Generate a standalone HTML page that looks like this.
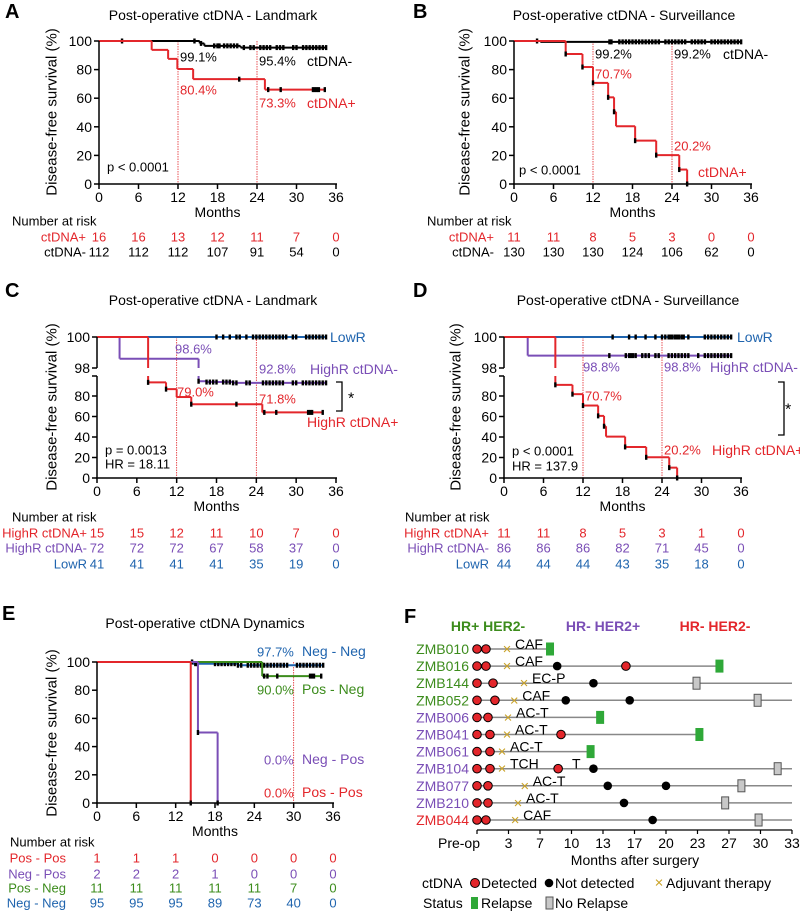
<!DOCTYPE html>
<html><head><meta charset="utf-8">
<style>
html,body{margin:0;padding:0;background:#fff;}
svg{display:block;font-family:"Liberation Sans",Arial,sans-serif;}
</style></head>
<body>
<svg id="fig" width="800" height="911" viewBox="0 0 800 911" xmlns="http://www.w3.org/2000/svg"></svg>
<script>
// ---------- DATA ----------
const xTicks = [0, 6, 12, 18, 24, 30, 36];
const yTicks = [0, 20, 40, 60, 80, 100];
const riskTimes = [0, 6, 12, 18, 24, 30, 36];

// Panel A
const aPosTimes = [8.0, 10.5, 11.9, 14.3, 25.2];
const aPosSurv = [93.8, 87.5, 80.4, 73.3, 66.0];
const aPosCens = [21.3, 25.7, 27.6, 32.5, 32.8, 33.1, 33.4, 34.3];
const aNegTimes = [15.3, 16.0, 21.5];
const aNegSurv = [98.3, 96.6, 95.4];
const aNegCens = [3.5, 14.5, 15.5, 17.5, 18, 18.3, 19, 19.5, 20, 20.5, 21, 22, 23, 23.5, 24.5, 25, 25.5, 26, 27, 27.5, 28, 29.5, 30, 31, 31.5, 32, 32.5, 33, 33.5, 34, 34.5];
const aRiskPos = [16, 16, 13, 12, 11, 7, 0];
const aRiskNeg = [112, 112, 112, 107, 91, 54, 0];

// Panel B
const bPosTimes = [7.85, 10.4, 12.0, 14.3, 15.2, 15.5, 18.4, 21.6, 25.1, 26.3];
const bPosSurv = [90.9, 81.8, 70.7, 60.6, 50.5, 40.4, 30.3, 20.2, 10.1, 0];
const bPosCens = [7.85, 10.4, 12.0, 14.3, 15.2, 18.4, 21.6, 25.1, 26.3];
const bNegTimes = [4.0];
const bNegSurv = [99.4];
const bNegCens = [3.5, 14.5, 14.8, 16, 16.5, 17, 17.5, 18, 18.5, 19, 19.5, 20, 20.5, 21, 21.5, 22, 23, 23.5, 24, 24.5, 25, 25.5, 26, 27, 27.5, 28, 28.5, 29, 30, 30.5, 31, 31.5, 32, 32.5, 33, 33.5, 34, 34.5];
const bRiskPos = [11, 11, 8, 5, 3, 0, 0];
const bRiskNeg = [130, 130, 130, 124, 106, 62, 0];

// Panel C
const cLowCens = [18, 19, 20, 21, 21.5, 22.5, 23.5, 24, 24.5, 25, 25.5, 26, 26.5, 27, 27.5, 28, 28.5, 29.5, 30, 31.5, 32, 32.5, 33, 33.5, 34, 34.5];
const cHnTimes = [3.4, 15.3, 16.5, 20.5];
const cHnSurv = [98.6, 94.4, 93.6, 92.8];
const cHnCens = [15.3, 16.5, 17, 17.5, 18, 19, 19.5, 20, 20.5, 21, 22.5, 23, 25, 25.5, 26, 26.5, 27, 27.5, 28, 29.5, 30, 31, 31.5, 32, 32.5, 33, 33.5, 34, 34.5];
const cHpTimes = [7.7, 10.4, 12.0, 14.2, 24.9];
const cHpSurv = [93.3, 86.7, 79.0, 72.0, 64.0];
const cHpCens = [7.7, 10.4, 14.2, 21.0, 25.2, 27.0, 31.8, 32.1, 32.4, 34.0];
const cRiskHp = [15, 15, 12, 11, 10, 7, 0];
const cRiskHn = [72, 72, 72, 67, 58, 37, 0];
const cRiskLow = [41, 41, 41, 41, 35, 19, 0];

// Panel D
const dLowCens = [16.5, 19, 20, 21.5, 23, 24, 24.5, 25, 25.3, 25.6, 26, 26.3, 26.6, 27, 27.3, 28, 30.5, 31, 31.5, 32, 32.5, 33, 33.5, 34, 34.5];
const dHnTimes = [3.6];
const dHnSurv = [98.8];
const dHnCens = [16, 18.5, 19, 19.3, 19.6, 20, 21, 21.5, 22, 23, 23.5, 25, 25.5, 26, 26.5, 27, 27.5, 28, 29.5, 30.5, 31, 31.5, 32, 32.5, 33, 33.5, 34, 34.5];
const dHpTimes = [7.8, 10.4, 12.0, 14.3, 15.2, 15.5, 18.4, 21.6, 25.1, 26.3];
const dHpSurv = [90.9, 81.8, 70.7, 60.6, 50.5, 40.4, 30.3, 20.2, 10.1, 0];
const dHpCens = [7.8, 10.4, 12.0, 14.3, 15.2, 18.4, 21.6, 25.1, 26.3];
const dRiskHp = [11, 11, 8, 5, 3, 1, 0];
const dRiskHn = [86, 86, 86, 82, 71, 45, 0];
const dRiskLow = [44, 44, 44, 43, 35, 18, 0];

// Panel E
const eNnTimes = [14.6, 21.5];
const eNnSurv = [98.8, 97.7];
const eNnCens = [14.5, 15, 15.3, 18, 18.5, 19, 19.5, 20, 20.5, 21, 21.5, 22, 23, 23.5, 24, 24.5, 25, 25.5, 26, 26.5, 27, 27.5, 28, 28.5, 29, 30.5, 31, 31.5, 32, 32.5, 33, 33.5, 34, 34.5];
const ePnTimes = [25.2];
const ePnSurv = [90.0];
const ePnCens = [25.5, 26, 27.5, 32.5, 32.8, 33.1, 34.2];
const eNpTimes = [15.4, 18.4];
const eNpSurv = [50, 0];
const ePpTimes = [14.3];
const ePpSurv = [0];
const eRiskPp = [1, 1, 1, 0, 0, 0, 0];
const eRiskNp = [2, 2, 2, 1, 0, 0, 0];
const eRiskPn = [11, 11, 11, 11, 11, 7, 0];
const eRiskNn = [95, 95, 95, 89, 73, 40, 0];

// Panel F
const fPatients = ["ZMB010","ZMB016","ZMB144","ZMB052","ZMB006","ZMB041","ZMB061","ZMB104","ZMB077","ZMB210","ZMB044"];
const fGroup = ["g","g","g","g","p","p","p","p","p","p","r"];
const fDetected = [[0,0.94],[0,0.94,15.6],[0,1.68],[0,1.88],[0,1.15],[0,1.36,8.8],[0,1.36],[0,1.36,8.5],[0,1.15],[0,1.15],[0,0.94]];
const fNotDetected = [[],[8.4],[12.2],[9.3,16.0],[],[],[],[12.2],[13.7,19.8],[15.4],[18.4]];
const fAdjuvant = [3.14,3.14,4.92,3.9,3.25,3.14,2.62,2.62,5.0,4.3,4.0];
const fTherapy = ["CAF","CAF","EC-P","CAF","AC-T","AC-T","AC-T","TCH","AC-T","AC-T","CAF"];
const fStatusTime = [7.65,25.4,23.0,29.4,12.9,23.3,11.9,31.5,27.7,26.0,29.5];
const fRelapse = [1,1,0,0,1,1,1,0,0,0,0];
const fTickMonths = [0,3.3,6.6,9.9,13.2,16.5,19.8,23.1,26.4,29.7,33];
const fTickLabels = ["Pre-op","3","7","10","13","17","20","23","27","30","33"];

// ---------- RENDER ----------
const NS = "http://www.w3.org/2000/svg";
const svg = document.getElementById("fig");
const RED = "#e3262b", PUR = "#7a4eb6", BLU = "#1f64ae", GRN = "#3c8c1c", BLK = "#000";

function el(tag, attrs, parent) {
  const e = document.createElementNS(NS, tag);
  for (const k in attrs) e.setAttribute(k, attrs[k]);
  (parent || svg).appendChild(e);
  return e;
}
function txt(s, x, y, size, fill, anchor, parent, name, weight) {
  const t = el("text", {x: x, y: y, "font-size": size, fill: fill || BLK, "text-anchor": anchor || "start", "dominant-baseline": "central"}, parent);
  if (weight) t.setAttribute("font-weight", weight);
  t.textContent = s;
  
  
  return t;
}
function grp(name) {
  const g = el("g", {});
  
  
  return g;
}
function lin(x1, y1, x2, y2, stroke, w, parent, dash) {
  const l = el("line", {x1: x1, y1: y1, x2: x2, y2: y2, stroke: stroke, "stroke-width": w}, parent);
  if (dash) l.setAttribute("stroke-dasharray", dash);
  return l;
}
function survAt(times, surv, t) {
  let s = 100;
  for (let i = 0; i < times.length; i++) if (times[i] <= t) s = surv[i];
  return s;
}
function xs(x0, x36) { return m => x0 + (x36 - x0) * m / 36; }
function ysLin(y100, y0) { const f = v => y0 - (y0 - y100) * v / 100; f.broken = false; return f; }
function ysBroken(y100, y98, yLowTop, y80, y0) {
  const f = v => v >= 98 ? y100 + (100 - v) * (y98 - y100) / 2 : y0 - v * (y0 - y80) / 80;
  f.broken = true; f.y98 = y98; f.yLowTop = yLowTop;
  return f;
}
function seg(g, X, Y, m1, v1, m2, v2, color) {
  if (Y.broken && m1 === m2 && v1 >= 98 && v2 < 98) {
    lin(X(m1), Y(v1), X(m2), Y.y98, color, 2, g);
    lin(X(m1), Y.yLowTop, X(m2), Y(v2), color, 2, g);
    return;
  }
  lin(X(m1), Y(v1), X(m2), Y(v2), color, 2, g);
}
function km(name, X, Y, times, surv, end, color, cens) {
  const g = grp(name);
  let pm = 0, pv = 100;
  for (let i = 0; i < times.length; i++) {
    seg(g, X, Y, pm, pv, times[i], pv, color);
    seg(g, X, Y, times[i], pv, times[i], surv[i], color);
    pm = times[i]; pv = surv[i];
  }
  if (end > pm) seg(g, X, Y, pm, pv, end, pv, color);
  (cens || []).forEach(c => {
    const y = Y(survAt(times, surv, c));
    const t = lin(X(c), y - 2.5, X(c), y + 2.5, BLK, 2.4, g);
    
    
  });
  return g;
}
function xAxis(name, X, yAx) {
  const g = grp(name);
  lin(X(0) - 1, yAx, X(36) + 1, yAx, BLK, 1.5, g);
  xTicks.forEach(t => {
    lin(X(t), yAx, X(t), yAx + 5, BLK, 1.5, g);
    txt(String(t), X(t), yAx + 13, 14, BLK, "middle", g, "x-tick-label");
  });
  txt("Months", (X(0) + X(36)) / 2, yAx + 28, 14, BLK, "middle", g, "x-axis-title");
}
function yAxisLin(name, X, Y) {
  const g = grp(name);
  lin(X(0), Y(100), X(0), Y(0), BLK, 1.5, g);
  yTicks.forEach(t => {
    lin(X(0) - 5, Y(t), X(0), Y(t), BLK, 1.5, g);
    txt(String(t), X(0) - 7, Y(t), 14, BLK, "end", g, "y-tick-label");
  });
}
function yAxisBroken(name, X, Y) {
  const g = grp(name);
  lin(X(0), Y(100), X(0), Y.y98, BLK, 1.5, g);
  [100, 98].forEach(t => {
    lin(X(0) - 5, Y(t), X(0), Y(t), BLK, 1.5, g);
    txt(String(t), X(0) - 7, Y(t), 14, BLK, "end", g, "y-tick-label");
  });
  lin(X(0), Y.yLowTop, X(0), Y(0), BLK, 1.5, g);
  lin(X(0) - 5, Y.yLowTop, X(0), Y.yLowTop, BLK, 1.5, g);
  [0, 20, 40, 60, 80].forEach(t => {
    lin(X(0) - 5, Y(t), X(0), Y(t), BLK, 1.5, g);
    txt(String(t), X(0) - 7, Y(t), 14, BLK, "end", g, "y-tick-label");
  });
}
function yTitle(x, yc) {
  const t = txt("Disease-free survival (%)", x, yc, 15, BLK, "middle", null, "y-axis-title");
  t.setAttribute("transform", "rotate(-90 " + x + " " + yc + ")");
}
function refLine(X, Y, m) {
  const l = lin(X(m), Y(100), X(m), Y(0), RED, 0.8, null, "1.5,1");
  
  
}
function riskRow(name, X, y, labelX, label, values, color) {
  const g = grp(name);
  txt(label, labelX, y, 13, color, "end", g, "risk-row-label");
  values.forEach((v, i) => txt(String(v), X(riskTimes[i]), y, 13, color, "middle", g, "risk-value"));
}

// ---- Panel A ----
(function () {
  const X = xs(99, 336), Y = ysLin(41, 184);
  txt("A", 5, 12, 20, BLK, "start", null, "panel-label-a", "bold");
  txt("Post-operative ctDNA - Landmark", 213, 15, 14, BLK, "middle", null, "chart-title-a");
  yTitle(52, 112);
  refLine(X, Y, 12); refLine(X, Y, 24);
  km("series-ctdna-neg-a", X, Y, aNegTimes, aNegSurv, 34.6, BLK, aNegCens);
  km("series-ctdna-pos-a", X, Y, aPosTimes, aPosSurv, 34.3, RED, aPosCens);
  yAxisLin("y-axis-a", X, Y); xAxis("x-axis-a", X, 184);
  txt("99.1%", 180, 57, 13, BLK, "start", null, "annotation");
  txt("95.4%", 259, 61, 13, BLK, "start", null, "annotation");
  txt("ctDNA-", 307, 61, 14, BLK, "start", null, "legend-ctdna-neg");
  txt("80.4%", 180, 90, 13, RED, "start", null, "annotation");
  txt("73.3%", 259, 103, 13, RED, "start", null, "annotation");
  txt("ctDNA+", 307, 103, 14, RED, "start", null, "legend-ctdna-pos");
  txt("p < 0.0001", 107, 167, 13, BLK, "start", null, "p-value");
  txt("Number at risk", 12, 221, 13, BLK, "start", null, "risk-title");
  riskRow("risk-row-pos-a", X, 237, 86, "ctDNA+", aRiskPos, RED);
  riskRow("risk-row-neg-a", X, 252, 86, "ctDNA-", aRiskNeg, BLK);
})();

// ---- Panel B ----
(function () {
  const X = xs(514, 751), Y = ysLin(41, 184);
  txt("B", 413, 12, 20, BLK, "start", null, "panel-label-b", "bold");
  txt("Post-operative ctDNA - Surveillance", 624, 15, 14, BLK, "middle", null, "chart-title-b");
  yTitle(465, 112);
  refLine(X, Y, 12); refLine(X, Y, 24);
  km("series-ctdna-neg-b", X, Y, bNegTimes, bNegSurv, 34.6, BLK, bNegCens);
  km("series-ctdna-pos-b", X, Y, bPosTimes, bPosSurv, 26.3, RED, bPosCens);
  yAxisLin("y-axis-b", X, Y); xAxis("x-axis-b", X, 184);
  txt("99.2%", 595, 54, 13, BLK, "start", null, "annotation");
  txt("99.2%", 674, 54, 13, BLK, "start", null, "annotation");
  txt("ctDNA-", 723, 54, 14, BLK, "start", null, "legend-ctdna-neg");
  txt("70.7%", 595, 74, 13, RED, "start", null, "annotation");
  txt("20.2%", 674, 146, 13, RED, "start", null, "annotation");
  txt("ctDNA+", 698, 172, 14, RED, "start", null, "legend-ctdna-pos");
  txt("p < 0.0001", 519, 170, 13, BLK, "start", null, "p-value");
  txt("Number at risk", 427, 221, 13, BLK, "start", null, "risk-title");
  riskRow("risk-row-pos-b", X, 237, 494, "ctDNA+", bRiskPos, RED);
  riskRow("risk-row-neg-b", X, 252, 494, "ctDNA-", bRiskNeg, BLK);
})();

// ---- Panel C ----
(function () {
  const X = xs(97, 336), Y = ysBroken(337, 368, 376, 396, 478);
  txt("C", 5, 291, 20, BLK, "start", null, "panel-label-c", "bold");
  txt("Post-operative ctDNA - Landmark", 213, 300, 14, BLK, "middle", null, "chart-title-c");
  yTitle(52, 407);
  refLine(X, Y, 12); refLine(X, Y, 24);
  km("series-lowr-c", X, Y, [], [], 34.5, BLU, cLowCens);
  km("series-highr-neg-c", X, Y, cHnTimes, cHnSurv, 34.5, PUR, cHnCens);
  km("series-highr-pos-c", X, Y, cHpTimes, cHpSurv, 34.0, RED, cHpCens);
  yAxisBroken("y-axis-c", X, Y); xAxis("x-axis-c", X, 478);
  txt("LowR", 330, 337, 14, BLU, "start", null, "legend-lowr");
  txt("98.6%", 175, 349, 13, PUR, "start", null, "annotation");
  txt("92.8%", 259, 369, 13, PUR, "start", null, "annotation");
  txt("HighR ctDNA-", 310, 369, 14, PUR, "start", null, "legend-highr-neg");
  txt("79.0%", 177, 392, 13, RED, "start", null, "annotation");
  txt("71.8%", 259, 399, 13, RED, "start", null, "annotation");
  txt("HighR ctDNA+", 307, 422, 14, RED, "start", null, "legend-highr-pos");
  const b = grp("significance-bracket-c");
  el("path", {d: "M336,382 H342 V411 H336", fill: "none", stroke: BLK, "stroke-width": 1.3}, b);
  txt("*", 348, 399, 16, BLK, "start", b, "significance-star");
  txt("p = 0.0013", 105, 450, 13, BLK, "start", null, "p-value");
  txt("HR = 18.11", 105, 464, 13, BLK, "start", null, "hazard-ratio");
  txt("Number at risk", 12, 517, 13, BLK, "start", null, "risk-title");
  riskRow("risk-row-highr-pos-c", X, 533, 87, "HighR ctDNA+", cRiskHp, RED);
  riskRow("risk-row-highr-neg-c", X, 548, 87, "HighR ctDNA-", cRiskHn, PUR);
  riskRow("risk-row-lowr-c", X, 564, 87, "LowR", cRiskLow, BLU);
})();

// ---- Panel D ----
(function () {
  const X = xs(504, 741), Y = ysBroken(337, 368, 376, 396, 478);
  txt("D", 413, 291, 20, BLK, "start", null, "panel-label-d", "bold");
  txt("Post-operative ctDNA - Surveillance", 628, 300, 14, BLK, "middle", null, "chart-title-d");
  yTitle(456, 407);
  refLine(X, Y, 12); refLine(X, Y, 24);
  km("series-lowr-d", X, Y, [], [], 34.5, BLU, dLowCens);
  km("series-highr-neg-d", X, Y, dHnTimes, dHnSurv, 34.5, PUR, dHnCens);
  km("series-highr-pos-d", X, Y, dHpTimes, dHpSurv, 26.3, RED, dHpCens);
  yAxisBroken("y-axis-d", X, Y); xAxis("x-axis-d", X, 478);
  txt("LowR", 737, 337, 14, BLU, "start", null, "legend-lowr");
  txt("98.8%", 583, 367, 13, PUR, "start", null, "annotation");
  txt("98.8%", 664, 367, 13, PUR, "start", null, "annotation");
  txt("HighR ctDNA-", 710, 367, 14, PUR, "start", null, "legend-highr-neg");
  txt("70.7%", 585, 396, 13, RED, "start", null, "annotation");
  txt("20.2%", 664, 450, 13, RED, "start", null, "annotation");
  txt("HighR ctDNA+", 712, 450, 14, RED, "start", null, "legend-highr-pos");
  const b = grp("significance-bracket-d");
  el("path", {d: "M778,382 H784 V435 H778", fill: "none", stroke: BLK, "stroke-width": 1.3}, b);
  txt("*", 785, 410, 16, BLK, "start", b, "significance-star");
  txt("p < 0.0001", 512, 451, 13, BLK, "start", null, "p-value");
  txt("HR = 137.9", 512, 466, 13, BLK, "start", null, "hazard-ratio");
  txt("Number at risk", 405, 517, 13, BLK, "start", null, "risk-title");
  riskRow("risk-row-highr-pos-d", X, 533, 489, "HighR ctDNA+", dRiskHp, RED);
  riskRow("risk-row-highr-neg-d", X, 548, 489, "HighR ctDNA-", dRiskHn, PUR);
  riskRow("risk-row-lowr-d", X, 564, 489, "LowR", dRiskLow, BLU);
})();

// ---- Panel E ----
(function () {
  const X = xs(97, 333), Y = ysLin(662, 803);
  txt("E", 2, 614, 20, BLK, "start", null, "panel-label-e", "bold");
  txt("Post-operative ctDNA Dynamics", 205, 623, 14, BLK, "middle", null, "chart-title-e");
  yTitle(52, 733);
  refLine(X, Y, 30);
  km("series-neg-neg", X, Y, eNnTimes, eNnSurv, 34.5, BLU, eNnCens);
  km("series-pos-neg", X, Y, ePnTimes, ePnSurv, 34.2, GRN, ePnCens);
  km("series-neg-pos", X, Y, eNpTimes, eNpSurv, 18.4, PUR, [15.4, 18.4]);
  km("series-pos-pos", X, Y, ePpTimes, ePpSurv, 14.3, RED, [14.3]);
  yAxisLin("y-axis-e", X, Y); xAxis("x-axis-e", X, 803);
  txt("97.7%", 257, 652, 13, BLU, "start", null, "annotation");
  txt("Neg - Neg", 302, 651, 14, BLU, "start", null, "legend-neg-neg");
  txt("90.0%", 257, 690, 13, GRN, "start", null, "annotation");
  txt("Pos - Neg", 302, 689, 14, GRN, "start", null, "legend-pos-neg");
  txt("0.0%", 264, 760, 13, PUR, "start", null, "annotation");
  txt("Neg - Pos", 302, 759, 14, PUR, "start", null, "legend-neg-pos");
  txt("0.0%", 264, 793, 13, RED, "start", null, "annotation");
  txt("Pos - Pos", 302, 792, 14, RED, "start", null, "legend-pos-pos");
  txt("Number at risk", 10, 842, 13, BLK, "start", null, "risk-title");
  riskRow("risk-row-pos-pos", X, 858, 66, "Pos - Pos", eRiskPp, RED);
  riskRow("risk-row-neg-pos", X, 874, 66, "Neg - Pos", eRiskNp, PUR);
  riskRow("risk-row-pos-neg", X, 888, 66, "Pos - Neg", eRiskPn, GRN);
  riskRow("risk-row-neg-neg", X, 903, 66, "Neg - Neg", eRiskNn, BLU);
})();

// ---- Panel F ----
(function () {
  const X = m => 477 + m * 9.545;
  const rowY = i => 649 + i * 17.1;
  const gc = {g: GRN, p: PUR, r: RED};
  txt("F", 404, 617, 20, BLK, "start", null, "panel-label-f", "bold");
  txt("HR+ HER2-", 488, 626, 14, GRN, "middle", null, "subtype-header-hr-pos", "bold");
  txt("HR- HER2+", 603, 626, 14, PUR, "middle", null, "subtype-header-her2-pos", "bold");
  txt("HR- HER2-", 715, 626, 14, RED, "middle", null, "subtype-header-tnbc", "bold");
  fPatients.forEach((p, i) => {
    const g = grp("patient-row-" + p.toLowerCase());
    const y = rowY(i);
    const endM = fRelapse[i] ? fStatusTime[i] : 33;
    lin(X(0), y, X(endM), y, "#888", 1.5, g);
    txt(p, 469, y, 14, gc[fGroup[i]], "end", g, "patient-id");
    fNotDetected[i].forEach(m => {
      const c = el("circle", {cx: X(m), cy: y, r: 4.3, fill: BLK}, g);
      
      
    });
    fDetected[i].forEach(m => {
      const c = el("circle", {cx: X(m), cy: y, r: 4.3, fill: "#e3262b", stroke: BLK, "stroke-width": 1}, g);
      
      
    });
    const ax = X(fAdjuvant[i]);
    txt("×", ax, y + 0.5, 15, "#c9a227", "middle", g, "adjuvant-therapy-mark");
    txt(fTherapy[i], ax + 8, y - 5, 14, BLK, "start", g, "therapy-name");
    if (p === "ZMB104") txt("T", X(9.95), y - 5, 14, BLK, "start", g, "therapy-name");
    const bx = X(fStatusTime[i]);
    const r = el("rect", {x: bx - 3.5, y: y - 6, width: 7, height: 12, fill: fRelapse[i] ? "#2fa838" : "#c8c8c8", stroke: fRelapse[i] ? "#2fa838" : "#555", "stroke-width": 1}, g);
    
    
  });
  const ax = grp("x-axis-f");
  lin(X(0), 830, X(33), 830, BLK, 1.2, ax);
  fTickMonths.forEach((m, i) => {
    lin(X(m), 830, X(m), 834, BLK, 1.2, ax);
    txt(fTickLabels[i], i === 0 ? X(m) - 18 : X(m), 843, 14, BLK, "middle", ax, "x-tick-label");
  });
  txt("Months after surgery", 635, 860, 14, BLK, "middle", ax, "x-axis-title");
  const lg = grp("legend-f");
  txt("ctDNA", 422, 883, 14, BLK, "start", lg, "legend-title-ctdna");
  el("circle", {cx: 475, cy: 883, r: 4.5, fill: "#e3262b", stroke: BLK, "stroke-width": 1}, lg);
  txt("Detected", 481, 883, 14, BLK, "start", lg, "legend-detected");
  el("circle", {cx: 549, cy: 883, r: 4.3, fill: BLK}, lg);
  txt("Not detected", 555, 883, 14, BLK, "start", lg, "legend-not-detected");
  txt("×", 659, 883, 15, "#c9a227", "middle", lg, "legend-adjuvant-mark");
  txt("Adjuvant therapy", 666, 883, 14, BLK, "start", lg, "legend-adjuvant");
  txt("Status", 423, 903, 14, BLK, "start", lg, "legend-title-status");
  el("rect", {x: 471, y: 897, width: 7, height: 12, fill: "#2fa838"}, lg);
  txt("Relapse", 481, 903, 14, BLK, "start", lg, "legend-relapse");
  el("rect", {x: 546, y: 897, width: 7, height: 12, fill: "#c8c8c8", stroke: "#555", "stroke-width": 1}, lg);
  txt("No Relapse", 555, 903, 14, BLK, "start", lg, "legend-no-relapse");
})();
</script>
</body></html>
